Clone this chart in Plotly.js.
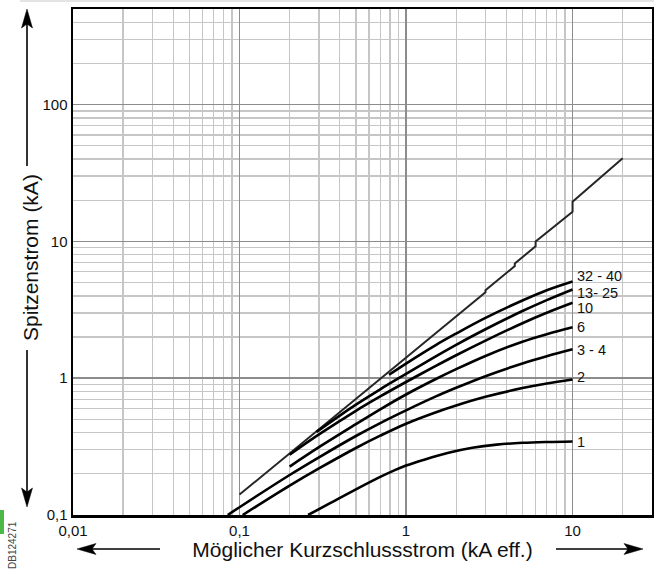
<!DOCTYPE html>
<html><head><meta charset="utf-8">
<script src="https://cdn.plot.ly/plotly-3.0.1.min.js"></script>
<style>html,body{margin:0;padding:0;background:#fff}#chart{width:654px;height:574px}</style>
</head><body><div id="chart"></div>
<script>
// ---- tick labels ----
const xTickVals = [0.01, 0.1, 1, 10];
const xTickText = ['0,01', '0,1', '1', '10'];
const yTickVals = [0.1, 1, 10, 100];
const yTickText = ['0,1', '1', '10', '100'];

// ---- unlimited (prospective) peak current ----
const xPeak = [0.1, 1, 3, 3, 4.5, 4.5, 6, 6, 10, 10, 20];
const yPeak = [0.141, 1.41, 4.25, 4.4, 6.6, 6.9, 9.2, 10.0, 16.5, 19.5, 40.5];

// ---- limited peak current per rating ----
const curveNames = ['32 - 40', '13- 25', '10', '6', '3 - 4', '2', '1'];
const x3240 = [0.79, 1, 1.5, 2, 3, 5, 7, 10];
const y3240 = [1.06, 1.28, 1.74, 2.12, 2.76, 3.7, 4.4, 5.1];
const x1325 = [0.29, 0.4, 0.5, 0.7, 1, 1.5, 2, 3, 5, 7, 10];
const y1325 = [0.405, 0.533, 0.641, 0.83, 1.074, 1.439, 1.754, 2.28, 3.097, 3.724, 4.457];
const x10 = [0.2, 0.3, 0.5, 0.7, 1, 1.5, 2, 3, 5, 7, 10];
const y10 = [0.276, 0.388, 0.578, 0.736, 0.938, 1.225, 1.472, 1.884, 2.523, 3.006, 3.556];
const x6 = [0.2, 0.3, 0.5, 0.7, 1, 1.5, 2, 3, 5, 7, 10];
const y6 = [0.226, 0.313, 0.461, 0.592, 0.76, 0.982, 1.164, 1.455, 1.849, 2.099, 2.355];
const x34 = [0.085, 0.1, 0.2, 0.3, 0.5, 0.7, 1, 1.5, 2, 3, 5, 7, 10];
const y34 = [0.1, 0.114, 0.196, 0.264, 0.378, 0.47, 0.582, 0.733, 0.851, 1.035, 1.282, 1.449, 1.626];
const x2 = [0.1045, 0.2, 0.3, 0.5, 0.7, 1, 1.5, 2, 3, 5, 7, 10];
const y2 = [0.1, 0.164, 0.219, 0.309, 0.38, 0.465, 0.562, 0.632, 0.731, 0.847, 0.916, 0.979];
const x1 = [0.258, 0.35, 0.5, 0.7, 0.85, 1, 1.3, 1.8, 2.5, 3.5, 5, 7, 10];
const y1 = [0.1, 0.122, 0.154, 0.19, 0.212, 0.23, 0.255, 0.285, 0.31, 0.327, 0.337, 0.342, 0.345];

const curvesX = [x3240, x1325, x10, x6, x34, x2, x1];
const curvesY = [y3240, y1325, y10, y6, y34, y2, y1];
const labelShift = [5, -4, -5, 0, -1, 2, -1];

// ---- geometry of plot area (for decorations) ----
const PL = 73, PW = 579, PT = 9, PH = 506;
const px = x => (x - PL) / PW;
const py = y => (PT + PH - y) / PH;

// minor gridline positions (axis config)
const xMinor = [], yMinor = [];
for (let e = -2; e <= 1; e++) for (let d = 2; d <= 9; d++) { const v = d * Math.pow(10, e); if (v < 30) xMinor.push(v); }
for (let e = -1; e <= 2; e++) for (let d = 2; d <= 9; d++) { const v = d * Math.pow(10, e); if (v < 500) yMinor.push(v); }

const traces = [{
  x: xPeak, y: yPeak, type: 'scatter', mode: 'lines',
  line: {color: '#262626', width: 2}, hoverinfo: 'skip'
}];
curvesX.forEach((cx, i) => {
  traces.push({x: cx, y: curvesY[i], type: 'scatter', mode: 'lines',
    line: {color: '#000', width: 2.6, shape: 'spline', smoothing: 1}, name: curveNames[i]});
});

const FONT = '"Liberation Sans", Arial, Helvetica, sans-serif';
const annotations = curveNames.map((n, i) => ({
  x: Math.log10(curvesX[i][curvesX[i].length - 1]),
  y: Math.log10(curvesY[i][curvesY[i].length - 1]),
  xref: 'x', yref: 'y', text: n, showarrow: false,
  xanchor: 'left', yanchor: 'middle', xshift: 2, yshift: labelShift[i],
  font: {size: 14.5, color: '#111', family: FONT}
}));
annotations.push({
  x: px(30), y: py(258), xref: 'paper', yref: 'paper', text: 'Spitzenstrom (kA)',
  textangle: -90, showarrow: false, xanchor: 'center', yanchor: 'middle',
  font: {size: 21, color: '#111', family: FONT}
});
annotations.push({
  x: px(12), y: py(545), xref: 'paper', yref: 'paper', text: 'DB124271',
  textangle: -90, showarrow: false, xanchor: 'center', yanchor: 'middle',
  font: {size: 10, color: '#444', family: FONT}
});

function arrowShapes(x0, y0, x1, y1) {
  // shaft from (x0,y0) to tip (x1,y1), pixel coords
  const dx = x1 - x0, dy = y1 - y0, L = Math.hypot(dx, dy);
  const ux = dx / L, uy = dy / L, nx = -uy, ny = ux;
  const hl = 19, hw = 5.5, notch = 15;
  const bx = x1 - ux * hl, by = y1 - uy * hl;
  const p = (X, Y) => px(X) + ',' + py(Y);
  return [
    {type: 'line', xref: 'paper', yref: 'paper', x0: px(x0), y0: py(y0), x1: px(x1 - ux * 10), y1: py(y1 - uy * 10),
      line: {color: '#000', width: 1.6}},
    {type: 'path', xref: 'paper', yref: 'paper',
      path: 'M' + p(x1, y1) + ' L' + p(bx + nx * hw, by + ny * hw) + ' L' + p(x1 - ux * notch, y1 - uy * notch) +
            ' L' + p(bx - nx * hw, by - ny * hw) + ' Z',
      fillcolor: '#000', line: {color: '#000', width: 0.5}}
  ];
}
const shapes = [].concat(
  arrowShapes(27, 166, 27, 9),
  arrowShapes(27, 350, 27, 507),
  arrowShapes(160, 549, 77, 549),
  arrowShapes(556, 549, 643, 549),
  [{type: 'line', xref: 'paper', yref: 'paper', x0: px(20), y0: py(1), x1: px(654), y1: py(1),
    line: {color: '#e4e4e4', width: 2}},
   {type: 'rect', xref: 'paper', yref: 'paper', x0: px(0), y0: py(534), x1: px(4), y1: py(510),
    fillcolor: '#4cb848', line: {width: 0}}]
);

const layout = {
  width: 654, height: 574,
  margin: {l: PL, r: 654 - PL - PW, t: PT, b: 574 - PT - PH},
  paper_bgcolor: '#fff', plot_bgcolor: '#fff', showlegend: false,
  font: {family: FONT, color: '#111', size: 15},
  xaxis: {
    type: 'log', range: [-2, Math.log10(30)], tickmode: 'array', tickvals: xTickVals, ticktext: xTickText,
    showgrid: true, gridcolor: '#8c8c8c', gridwidth: 1.5, zeroline: false,
    showline: true, mirror: true, linecolor: '#000', linewidth: 2.5, ticks: '',
    tickfont: {size: 15, family: FONT, color: '#111'},
    minor: {tickmode: 'array', tickvals: xMinor, showgrid: true, gridcolor: '#c6c6c6', gridwidth: 1.3, ticks: ''},
    title: {text: 'Möglicher Kurzschlussstrom (kA eff.)', font: {size: 21, family: FONT, color: '#111'}, standoff: 2}
  },
  yaxis: {
    type: 'log', range: [-1, Math.log10(500)], tickmode: 'array', tickvals: yTickVals, ticktext: yTickText,
    showgrid: true, gridcolor: '#8c8c8c', gridwidth: 1.5, zeroline: false,
    showline: true, mirror: true, linecolor: '#000', linewidth: 2.5, ticks: '',
    tickfont: {size: 15, family: FONT, color: '#111'},
    minor: {tickmode: 'array', tickvals: yMinor, showgrid: true, gridcolor: '#c6c6c6', gridwidth: 1.3, ticks: ''}
  },
  annotations: annotations,
  shapes: shapes
};

Plotly.newPlot('chart', traces, layout, {displayModeBar: false, staticPlot: true});
</script>
</body></html>
